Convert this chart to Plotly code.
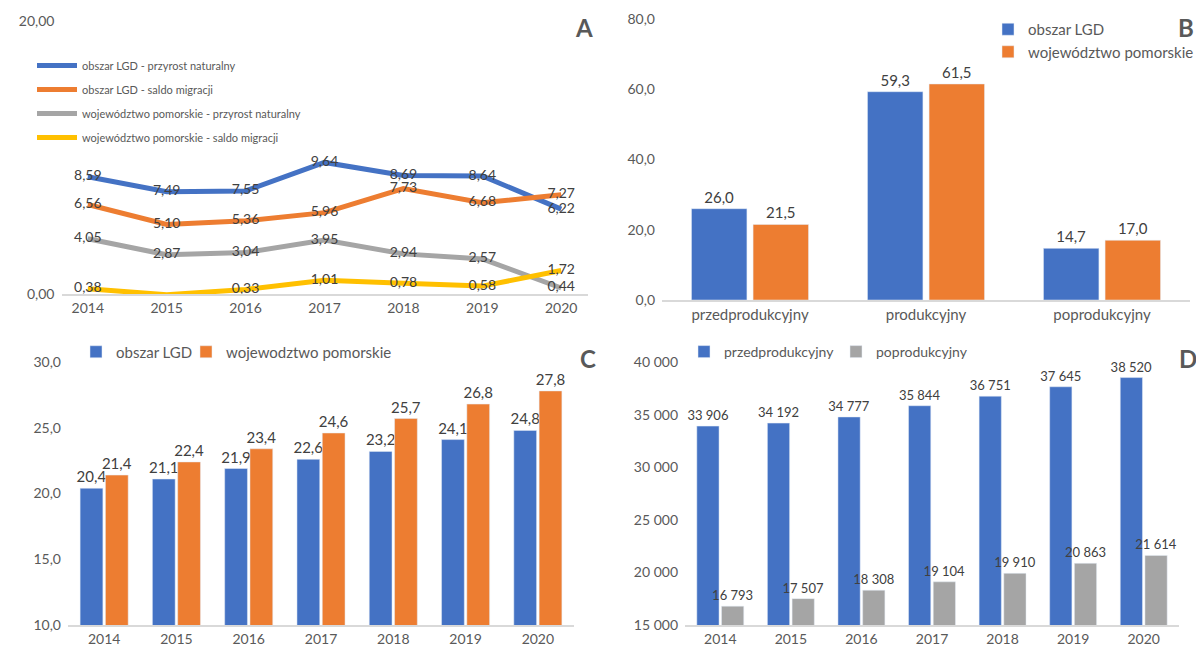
import plotly.graph_objects as go

W, H = 1196, 651
FONT = "Lato"
TXT = "#404040"
AX = "#595959"
BLUE, ORANGE, GREY, YELLOW = "#4472C4", "#ED7D31", "#A5A5A5", "#FFC000"

# ---- Panel A data ----
years = ["2014", "2015", "2016", "2017", "2018", "2019", "2020"]
a_lgd_przyrost = [8.59, 7.49, 7.55, 9.64, 8.69, 8.64, 6.22]
a_lgd_saldo = [6.56, 5.10, 5.36, 5.96, 7.73, 6.68, 7.27]
a_woj_przyrost = [4.05, 2.87, 3.04, 3.95, 2.94, 2.57, 0.44]
a_woj_saldo = [0.38, -0.05, 0.33, 1.01, 0.78, 0.58, 1.72]
a_names = ["obszar LGD - przyrost naturalny", "obszar LGD - saldo migracji",
           "województwo pomorskie - przyrost naturalny", "województwo pomorskie - saldo migracji"]

# ---- Panel B data ----
b_cats = ["przedprodukcyjny", "produkcyjny", "poprodukcyjny"]
b_lgd = [26.0, 59.3, 14.7]
b_woj = [21.5, 61.5, 17.0]

# ---- Panel C data ----
c_lgd = [20.4, 21.1, 21.9, 22.6, 23.2, 24.1, 24.8]
c_woj = [21.4, 22.4, 23.4, 24.6, 25.7, 26.8, 27.8]

# ---- Panel D data ----
d_przed = [33906, 34192, 34777, 35844, 36751, 37645, 38520]
d_poprod = [16793, 17507, 18308, 19104, 19910, 20863, 21614]


def fmt(v, d):
    return f"{v:.{d}f}".replace(".", ",")


def fmt_int(v):
    return f"{v:,}".replace(",", " ")


def px(x):
    return x / W


def py(y):
    return (H - y) / H


fig = go.Figure()

# Panel A lines
for vals, name, col in zip([a_lgd_przyrost, a_lgd_saldo, a_woj_przyrost, a_woj_saldo], a_names,
                           [BLUE, ORANGE, GREY, YELLOW]):
    fig.add_trace(go.Scatter(
        x=years, y=vals, name=name, mode="lines+text",
        line=dict(color=col, width=5),
        text=[fmt(v, 2) if v > 0 else "" for v in vals],
        textposition="middle center",
        textfont=dict(family=FONT, size=14, color=TXT),
        xaxis="x", yaxis="y", legend="legend", legendgroup=name,
        cliponaxis=False,
    ))

# Panel B bars
for vals, name, col in zip([b_lgd, b_woj], ["obszar LGD", "województwo pomorskie"], [BLUE, ORANGE]):
    fig.add_trace(go.Bar(
        x=b_cats, y=vals, name=name, marker=dict(color=col),
        text=[fmt(v, 1) for v in vals], textposition="outside", constraintext="none",
        textfont=dict(family=FONT, size=15, color=TXT), cliponaxis=False,
        xaxis="x2", yaxis="y2", legend="legend2",
    ))

# Panel C bars
for vals, name, col, lw in zip([c_lgd, c_woj], ["obszar LGD", "wojewodztwo pomorskie"],
                               [BLUE, ORANGE], [65, None]):
    fig.add_trace(go.Bar(
        x=years, y=vals, name=name, marker=dict(color=col),
        text=[fmt(v, 1) for v in vals], textposition="outside", constraintext="none",
        textfont=dict(family=FONT, size=15, color=TXT), cliponaxis=False,
        xaxis="x3", yaxis="y3", legend="legend3", legendwidth=lw,
    ))

# Panel D bars
for vals, name, col, lw in zip([d_przed, d_poprod], ["przedprodukcyjny", "poprodukcyjny"],
                               [BLUE, GREY], [107, None]):
    fig.add_trace(go.Bar(
        x=years, y=vals, name=name, marker=dict(color=col),
        text=[fmt_int(v) for v in vals], textposition="outside", constraintext="none",
        textfont=dict(family=FONT, size=13, color=TXT), cliponaxis=False,
        xaxis="x4", yaxis="y4", legend="legend4", legendwidth=lw,
    ))

xcommon = dict(type="category", showline=True, linecolor="#D9D9D9", linewidth=2,
               showgrid=False, zeroline=False, ticks="",
               tickfont=dict(family=FONT, size=14, color=AX), fixedrange=True)
ycommon = dict(showline=False, showgrid=False, zeroline=False, ticks="",
               tickfont=dict(family=FONT, size=14, color=AX), ticklabelstandoff=6)

fig.update_layout(
    width=W, height=H, margin=dict(l=0, r=0, t=0, b=0, autoexpand=False),
    paper_bgcolor="white", plot_bgcolor="white",
    separators=", ",
    font=dict(family=FONT, color=AX),
    barmode="group", bargap=0.3, bargroupgap=0.1,
    xaxis=dict(xcommon, domain=[px(61.5), px(587.5)], anchor="y"),
    yaxis=dict(ycommon, domain=[py(294), py(21)], range=[0, 20], tickvals=[0, 20],
               tickformat=".2f", anchor="x"),
    xaxis2=dict(xcommon, domain=[px(662), px(1190)], anchor="y2",
                tickfont=dict(family=FONT, size=15, color=AX)),
    yaxis2=dict(ycommon, domain=[py(300), py(19)], range=[0, 80], dtick=20,
                tickformat=".1f", anchor="x2"),
    xaxis3=dict(xcommon, domain=[px(68), px(574)], anchor="y3"),
    yaxis3=dict(ycommon, domain=[py(625), py(362)], range=[10, 30], dtick=5,
                tickformat=".1f", anchor="x3"),
    xaxis4=dict(xcommon, domain=[px(685), px(1179)], anchor="y4"),
    yaxis4=dict(ycommon, domain=[py(625), py(362)], range=[15000, 40000], dtick=5000,
                tickformat=",d", anchor="x4"),
    legend=dict(x=px(32), y=py(51), xanchor="left", yanchor="top", orientation="v",
                font=dict(family=FONT, size=11, color=AX), bgcolor="rgba(0,0,0,0)",
                tracegroupgap=5, itemwidth=40),
    legend2=dict(x=px(988), y=py(13), xanchor="left", yanchor="top", orientation="v",
                 font=dict(family=FONT, size=15, color=AX), bgcolor="rgba(0,0,0,0)",
                 itemwidth=30, tracegroupgap=4),
    legend3=dict(x=px(76), y=py(352), xanchor="left", yanchor="middle", orientation="h",
                 font=dict(family=FONT, size=15, color=AX), bgcolor="rgba(0,0,0,0)",
                 itemwidth=30),
    legend4=dict(x=px(684), y=py(352), xanchor="left", yanchor="middle", orientation="h",
                 font=dict(family=FONT, size=14, color=AX), bgcolor="rgba(0,0,0,0)",
                 itemwidth=30),
    showlegend=True,
)

for letter, x, y in [("A", 584, 28), ("B", 1186, 28), ("C", 588, 358), ("D", 1188, 358)]:
    fig.add_annotation(text=f"<b>{letter}</b>", x=px(x), y=py(y), xref="paper", yref="paper",
                       xanchor="center", yanchor="middle", showarrow=False,
                       font=dict(family=FONT, size=24, color=AX))

fig.write_html("out.html", config={"displayModeBar": False},
               post_script="document.body.style.margin='0';document.body.style.overflow='hidden';")
